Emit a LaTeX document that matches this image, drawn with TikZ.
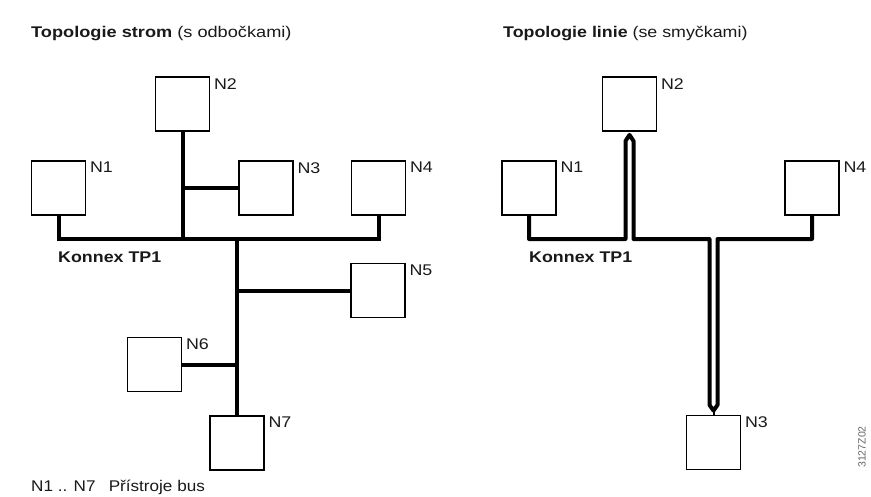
\documentclass[tikz,border=0pt]{standalone}
\usepackage{fontspec}
\setmainfont{Liberation Sans}
\usetikzlibrary{calc}
\begin{document}
\begin{tikzpicture}[x=1pt,y=-1pt,
  dev/.style={draw, line width=1.8pt, minimum width=54pt, minimum height=54pt, inner sep=0pt},
  bus/.style={line width=4pt},
  txt/.style={font=\fontsize{15.5}{18}\selectfont, xscale=1.15, inner sep=0pt, text=black!90},
  nlbl/.style={txt, anchor=north west, xshift=3pt, yshift=-2pt},
  loopbus/.style={line width=4pt, line join=round}]
\useasboundingbox (0,0) rectangle (871,496);
% titles
\node[txt, anchor=west, xscale=1.02] (t1) at (31,33) {\textbf{Topologie strom} (s odbočkami)};
\node[txt, anchor=west] (t2) at (503,33) {\textbf{Topologie linie} (se smyčkami)};
% ---------- tree ----------
\node[dev, label={[nlbl]north east:N1}] (N1) at (58.5,188) {};
\node[dev, label={[nlbl]north east:N2}] (N2) at (182.5,104) {};
\node[dev, label={[nlbl]north east:N3}] (N3) at (266,188) {};
\node[dev, label={[nlbl]north east:N4}] (N4) at (378.5,188) {};
\node[dev, label={[nlbl]north east:N5}] (N5) at (378,290.5) {};
\node[dev, label={[nlbl]north east:N6}] (N6) at (154.5,364.5) {};
\node[dev, label={[nlbl]north east:N7}] (N7) at (237,443) {};
\coordinate (bL) at (58.5,239);
\coordinate (bR) at (378.5,239);
\coordinate (bM) at (237,239);
\coordinate (bN2) at (182.5,239);
\draw[bus] (N1.south) -- (bL) -- (bR) -- (N4.south);
\draw[bus] (N2.south) -- (bN2);
\draw[bus] (N3.west) -- (N3.west -| N2.south);
\draw[bus] (bM) -- (N7.north);
\draw[bus] (N5.west) -- (N5.west -| bM);
\draw[bus] (N6.east) -- (N6.east -| bM);
\node[txt, anchor=west, font=\fontsize{15.5}{18}\selectfont\bfseries] (k1) at (58,257) {Konnex TP1};
\node[txt, anchor=west, xscale=0.96] (foot) at (31,487) {N1 .. N7\hspace{12pt}Přístroje bus};
% ---------- line ----------
\node[dev, label={[nlbl]north east:N1}] (M1) at (529,188) {};
\node[dev, label={[nlbl]north east:N2}] (M2) at (629.5,104) {};
\node[dev, label={[nlbl]north east:N3}] (M3) at (713.5,442.5) {};
\node[dev, label={[nlbl]north east:N4}] (M4) at (812,188) {};
\coordinate (rL) at (529,239);
\coordinate (ua) at (625.5,239);
\coordinate (ub) at (625.5,141);
\coordinate (uc) at (633.5,141);
\coordinate (ud) at (633.5,239);
\coordinate (da) at (709.5,239);
\coordinate (db) at (709.5,405);
\coordinate (dc) at (717.5,405);
\coordinate (dd) at (717.5,239);
\coordinate (rR) at (812,239);
\draw[loopbus] (M1.south) -- (rL) -- (ua) -- (ub) -- ([yshift=-3pt]M2.south) -- (uc) -- (ud)
  -- (da) -- (db) -- ([yshift=4pt]M3.north) -- (dc) -- (dd) -- (rR) -- (M4.south);
\draw[line width=2pt] (M3.north) -- ([yshift=4pt]M3.north);
\node[txt, anchor=west, font=\fontsize{15.5}{18}\selectfont\bfseries] (k2) at (529,257) {Konnex TP1};
\node[font=\fontsize{10.5}{12}\selectfont, text=black!60, rotate=90, inner sep=0pt] (code) at (862,447) {3127Z02};
\end{tikzpicture}
\end{document}
